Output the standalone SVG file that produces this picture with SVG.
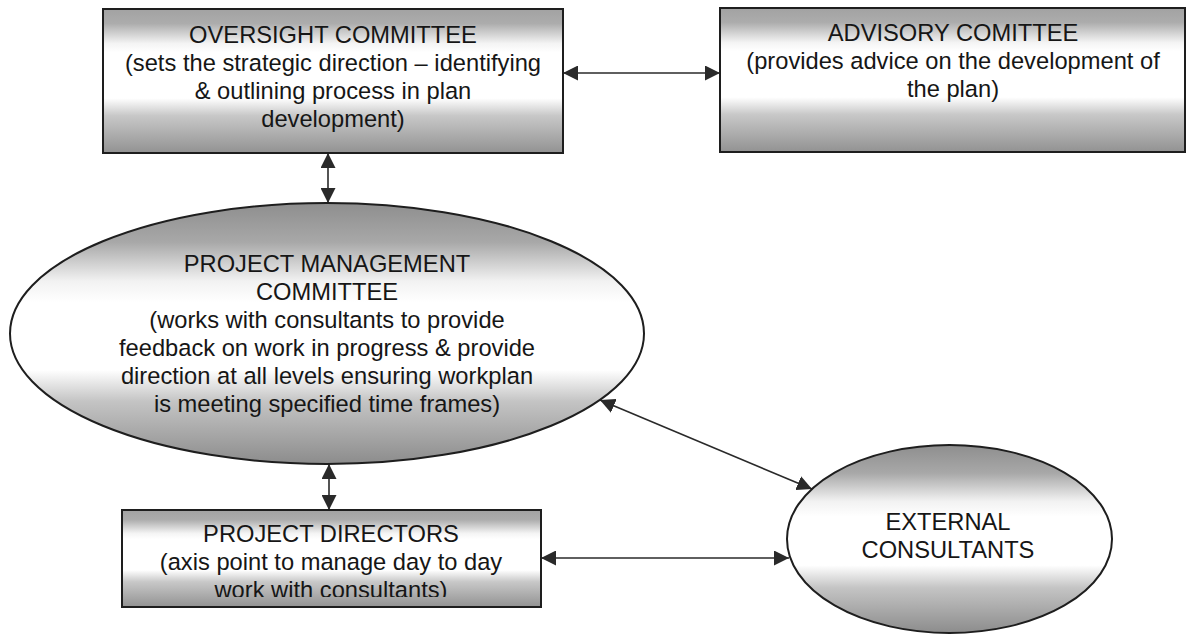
<svg xmlns="http://www.w3.org/2000/svg" width="1186" height="635" viewBox="0 0 1186 635">
  <style>
    .box { stroke: #1e1e1e; stroke-width: 2; }
    .conn { stroke: #2a2a2a; stroke-width: 1.6; fill: none; marker-start: url(#ah); marker-end: url(#ah); }
    text { font-family: "Liberation Sans", Arial, sans-serif; font-size: 23.7px; fill: #161616; text-anchor: middle; }
  </style>
  <defs>
    <marker id="ah" viewBox="0 0 15 15" markerWidth="15" markerHeight="15" refX="15" refY="7.5" markerUnits="userSpaceOnUse" orient="auto-start-reverse">
      <path d="M0,0 L15,7.5 L0,15 z" fill="#2a2a2a"/>
    </marker>
    <linearGradient id="gRect" x1="0" y1="0" x2="0" y2="1">
      <stop offset="0" stop-color="#a2a2a2"/>
      <stop offset="0.1" stop-color="#acacac"/>
      <stop offset="0.24" stop-color="#f4f4f4"/>
      <stop offset="0.3" stop-color="#ffffff"/>
      <stop offset="0.62" stop-color="#ffffff"/>
      <stop offset="0.74" stop-color="#c8c8c8"/>
      <stop offset="1" stop-color="#929292"/>
    </linearGradient>
    <linearGradient id="gEll" x1="0" y1="0" x2="0" y2="1">
      <stop offset="0" stop-color="#8e8e8e"/>
      <stop offset="0.15" stop-color="#a8a8a8"/>
      <stop offset="0.3" stop-color="#f2f2f2"/>
      <stop offset="0.38" stop-color="#ffffff"/>
      <stop offset="0.64" stop-color="#ffffff"/>
      <stop offset="0.76" stop-color="#c4c4c4"/>
      <stop offset="1" stop-color="#8c8c8c"/>
    </linearGradient>
    <clipPath id="dirClip">
      <rect x="122" y="510" width="419" height="87"/>
    </clipPath>
  </defs>

  <g id="connectors">
    <line class="conn" x1="563" y1="73" x2="720" y2="73"/>
    <line class="conn" x1="328" y1="153" x2="328" y2="203"/>
    <line class="conn" x1="329" y1="464" x2="329" y2="510"/>
    <line class="conn" x1="600" y1="400" x2="812" y2="489"/>
    <line class="conn" x1="541" y1="558" x2="789" y2="558"/>
  </g>

  <g id="oversight">
    <rect class="box" x="103" y="9" width="460" height="144" fill="url(#gRect)"/>
    <text x="333" y="43">OVERSIGHT COMMITTEE</text>
    <text x="333" y="71">(sets the strategic direction – identifying</text>
    <text x="333" y="99">&amp; outlining process in plan</text>
    <text x="333" y="127">development)</text>
  </g>

  <g id="advisory">
    <rect class="box" x="720" y="8" width="465" height="144" fill="url(#gRect)"/>
    <text x="953" y="41">ADVISORY COMITTEE</text>
    <text x="953" y="69">(provides advice on the development of</text>
    <text x="953" y="97">the plan)</text>
  </g>

  <g id="pmc">
    <ellipse class="box" cx="327" cy="333.5" rx="317" ry="130.5" fill="url(#gEll)"/>
    <text x="327" y="272">PROJECT MANAGEMENT</text>
    <text x="327" y="300">COMMITTEE</text>
    <text x="327" y="328">(works with consultants to provide</text>
    <text x="327" y="356">feedback on work in progress &amp; provide</text>
    <text x="327" y="384">direction at all levels ensuring workplan</text>
    <text x="327" y="412">is meeting specified time frames)</text>
  </g>

  <g id="directors">
    <rect class="box" x="122" y="510" width="419" height="97" fill="url(#gRect)"/>
    <g clip-path="url(#dirClip)">
      <text x="331" y="542">PROJECT DIRECTORS</text>
      <text x="331" y="570">(axis point to manage day to day</text>
      <text x="331" y="598">work with consultants)</text>
    </g>
  </g>

  <g id="external">
    <ellipse class="box" cx="949.5" cy="539" rx="162.5" ry="94" fill="url(#gEll)"/>
    <text x="948" y="530">EXTERNAL</text>
    <text x="948" y="558">CONSULTANTS</text>
  </g>
</svg>
